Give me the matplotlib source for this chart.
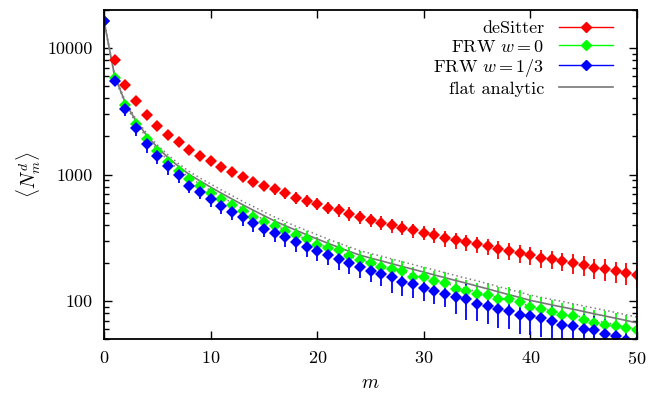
import numpy as np
import matplotlib
matplotlib.use('Agg')
import matplotlib.pyplot as plt
from matplotlib.lines import Line2D
from matplotlib.ticker import FixedLocator, NullFormatter, FuncFormatter

plt.rcParams['font.family'] = 'cmr10'
plt.rcParams['mathtext.fontset'] = 'cm'
plt.rcParams['axes.formatter.use_mathtext'] = True

m = np.arange(0, 51)

desitter = [16400, 8050, 5120, 3780, 2950, 2440, 2065, 1795, 1574, 1413,
            1274, 1142, 1043, 953, 869, 814, 762, 708, 656, 617,
            588, 547, 521, 490, 461, 436, 417, 397, 380, 362,
            347, 333, 312, 302, 290, 281, 270, 257, 249, 238,
            230, 218, 214, 206, 198, 192, 183, 179, 171, 166, 161]
desitter_rel = [0.01, 0.03, 0.03, 0.03, 0.035, 0.04, 0.05, 0.055, 0.06, 0.065,
                0.07, 0.08, 0.08, 0.085, 0.09, 0.09, 0.095, 0.1, 0.11, 0.11,
                0.11, 0.11, 0.12, 0.12, 0.12, 0.12, 0.13, 0.13, 0.13, 0.13,
                0.13, 0.14, 0.14, 0.15, 0.15, 0.15, 0.15, 0.16, 0.16, 0.16,
                0.16, 0.17, 0.17, 0.17, 0.18, 0.18, 0.18, 0.19, 0.19, 0.2, 0.2]

frw0 = [16400, 5840, 3560, 2520, 1910, 1525, 1250, 1062, 914, 809,
        708, 635, 570, 514, 464, 421, 392, 358, 331, 308,
        277, 260, 252, 225, 211, 199, 187, 179, 173, 156,
        154, 143, 138, 124, 120, 113, 111, 104, 104, 97.8,
        89, 86.5, 81.5, 77.6, 75.7, 71.2, 67.1, 65.1, 63.2, 61.0, 58.4]
frw0_rel = [0.01, 0.04, 0.045, 0.05, 0.055, 0.06, 0.07, 0.075, 0.08, 0.09,
            0.1, 0.1, 0.11, 0.12, 0.12, 0.13, 0.14, 0.15, 0.15, 0.16,
            0.16, 0.17, 0.17, 0.18, 0.18, 0.19, 0.19, 0.2, 0.2, 0.2,
            0.21, 0.21, 0.22, 0.22, 0.23, 0.23, 0.24, 0.25, 0.25, 0.25,
            0.25, 0.24, 0.25, 0.25, 0.26, 0.26, 0.27, 0.27, 0.27, 0.28, 0.28]

frw13 = [16400, 5530, 3290, 2335, 1754, 1412, 1162, 982, 818, 726,
         635, 563, 504, 458, 411, 374, 343, 318, 290, 268,
         249, 230, 214, 198, 184, 173, 163, 154, 140, 136,
         127, 120, 113, 107, 104, 94.6, 91.8, 86.5, 83.9, 77.6,
         76.6, 73.2, 70.0, 65.1, 62.8, 60.3, 58.4, 55.0, 52.7, 49.5, 47.5]
frw13_rel = [0.01, 0.1, 0.12, 0.13, 0.15, 0.15, 0.14, 0.13, 0.12, 0.12,
             0.13, 0.13, 0.14, 0.14, 0.15, 0.15, 0.15, 0.16, 0.16, 0.17,
             0.17, 0.17, 0.18, 0.18, 0.18, 0.19, 0.2, 0.25, 0.22, 0.22,
             0.22, 0.21, 0.21, 0.26, 0.32, 0.27, 0.28, 0.29, 0.28, 0.3,
             0.3, 0.29, 0.3, 0.3, 0.3, 0.31, 0.31, 0.31, 0.32, 0.32, 0.32]

analytic = [16400, 6000, 3700, 2650, 2040, 1640, 1360, 1160, 1000, 890,
            795, 712, 640, 577, 522, 473, 429, 394, 362.5, 334,
            309, 286, 265.5, 247, 230, 218.5, 207.5, 197, 187, 178,
            169, 160.5, 152.5, 145, 138, 131, 124.5, 118, 112, 106.5,
            101, 97, 93, 89.5, 86, 82.5, 79, 76, 73, 70, 67]
analytic_rel = [0.0, 0.02, 0.03, 0.035, 0.04, 0.045, 0.05, 0.05, 0.055, 0.055,
                0.06, 0.06, 0.065, 0.065, 0.07, 0.07, 0.075, 0.075, 0.075, 0.08,
                0.08, 0.08, 0.08, 0.085, 0.085, 0.085, 0.09, 0.09, 0.09, 0.09,
                0.09, 0.095, 0.095, 0.095, 0.095, 0.1, 0.1, 0.1, 0.1, 0.1,
                0.1, 0.1, 0.105, 0.105, 0.105, 0.105, 0.11, 0.11, 0.11, 0.11, 0.11]

series = [
    ("deSitter", desitter, desitter_rel, "#ff0000"),
    ("FRW $w=0$", frw0, frw0_rel, "#00ff00"),
    ("FRW $w=1/3$", frw13, frw13_rel, "#0000ff"),
]

fig = plt.figure(figsize=(6.65, 3.94), dpi=100)
ax = fig.add_axes([0.1564, 0.1396, 0.8015, 0.835])

handles = []
for label, vals, rel, col in series:
    vals = np.array(vals)
    err = vals * np.array(rel)
    ax.errorbar(m, vals, yerr=err, fmt='D', color=col, ms=6.2, mew=0,
                elinewidth=1.3, capsize=0)
    handles.append(Line2D([], [], color=col, marker='D', ms=5, lw=1.0))

an = np.array(analytic)
an_s = an * np.array(analytic_rel)
ax.plot(m, an, color='#777777', lw=1.2)
ax.plot(m, an + an_s, color='#808080', lw=1.1, ls=(0, (1, 2)))
ax.plot(m, an - an_s, color='#808080', lw=1.1, ls=(0, (1, 2)))
handles.append(Line2D([], [], color='#777777', lw=1.2))

ax.set_yscale('log')
ax.set_xlim(0, 50)
ax.set_ylim(50, 20000)
ax.set_xticks([0, 10, 20, 30, 40, 50])
ax.yaxis.set_major_locator(FixedLocator([100, 1000, 10000]))
ax.yaxis.set_major_formatter(FuncFormatter(lambda v, p: "%d" % v))
ax.yaxis.set_minor_formatter(NullFormatter())
ax.tick_params(which='both', direction='in', top=True, right=True, labelsize=13)
ax.tick_params(which='major', length=6, width=1.0, pad=8)
ax.tick_params(which='minor', length=3.5, width=1.0)
for s in ax.spines.values():
    s.set_linewidth(1.3)

ax.set_xlabel("$m$", fontsize=14, labelpad=5)
ax.set_ylabel(r"$\langle N^d_m \rangle$", fontsize=14, labelpad=3)

ax.legend(handles, [s[0] for s in series] + ["flat analytic"],
          loc='upper right', frameon=False, markerfirst=False, fontsize=13,
          handlelength=3.0, labelspacing=0.12, borderaxespad=0.2,
          bbox_to_anchor=(0.975, 1.0))

fig.savefig("out.png", dpi=100)
